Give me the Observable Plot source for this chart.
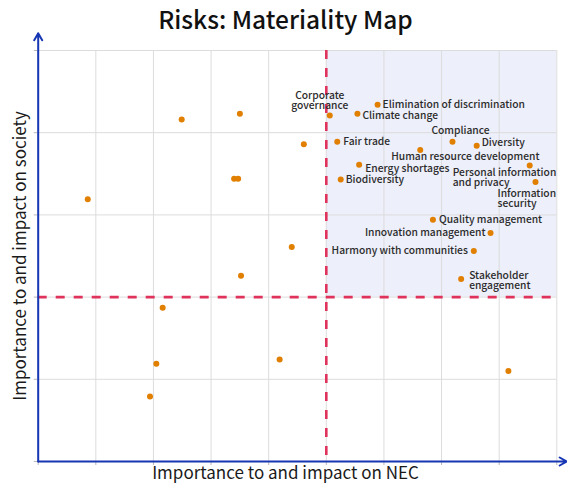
<!DOCTYPE html>
<html>
<head>
<meta charset="utf-8">
<script src="https://cdn.jsdelivr.net/npm/d3@7"></script>
<script src="https://cdn.jsdelivr.net/npm/@observablehq/plot@0.6"></script>
<style>
  html, body { margin: 0; padding: 0; background: #fff; }
  body { width: 567px; height: 489px; overflow: hidden; font-family: "Noto Sans CJK JP", "Noto Sans", sans-serif; }
  #title { height: 40px; line-height: 38px; text-align: center; font-size: 24.5px; font-weight: 500; color: #111; padding-left: 4px; box-sizing: border-box; }
</style>
</head>
<body>
<div id="title"></div>
<div id="chart"></div>
<script>
// ---- data ----
const titleText = "Risks: Materiality Map";
const xLabel = "Importance to and impact on NEC";
const yLabel = "Importance to and impact on society";

const names = [
  "Corporate\ngovernance", "Elimination of discrimination", "Climate change", "Fair trade",
  "Compliance", "Diversity", "Human resource development", "Energy shortages", "Biodiversity",
  "Personal information\nand privacy", "Information\nsecurity", "Quality management",
  "Innovation management", "Harmony with communities", "Stakeholder\nengagement",
  "", "", "", "", "", "", "", "", "", "", "", "", ""
];
const necValues = [
  5.06, 5.89, 5.54, 5.19,
  7.19, 7.61, 6.63, 5.57, 5.25,
  8.53, 8.63, 6.85,
  7.85, 7.56, 7.34,
  0.86, 2.49, 3.50, 4.61, 3.40, 3.47, 4.40, 3.52, 2.16, 2.05, 4.19, 1.94, 8.16
];
const societyValues = [
  4.21, 4.34, 4.23, 3.89,
  3.89, 3.84, 3.79, 3.61, 3.43,
  3.60, 3.40, 2.94,
  2.78, 2.56, 2.22,
  3.19, 4.16, 4.23, 3.86, 3.44, 3.44, 2.61, 2.26, 1.87, 1.19, 1.24, 0.79, 1.10
];
const xTicks = [0, 1, 2, 3, 4, 5, 6, 7, 8, 9];
const yTicks = [0, 1, 2, 3, 4, 5];
const xThreshold = 5;
const yThreshold = 2;
const xMax = 9, yMax = 5;
const xArrowEnd = 9.17, yArrowEnd = 5.21;

document.getElementById("title").textContent = titleText;

// label placement (layout, relative to each point)
const labelStyle = {
  "Corporate\ngovernance": {anchor: "middle", dx: -10, dy: -15},
  "Elimination of discrimination": {anchor: "start", dx: 5, dy: 0},
  "Climate change": {anchor: "start", dx: 5, dy: 2},
  "Fair trade": {anchor: "start", dx: 6, dy: 0},
  "Compliance": {anchor: "middle", dx: 8, dy: -11},
  "Diversity": {anchor: "start", dx: 5, dy: -3},
  "Human resource development": {anchor: "start", dx: -29, dy: 7},
  "Energy shortages": {anchor: "start", dx: 6, dy: 4},
  "Biodiversity": {anchor: "start", dx: 5, dy: 0},
  "Personal information\nand privacy": {anchor: "start", dx: -77, dy: 12},
  "Information\nsecurity": {anchor: "start", dx: -38, dy: 17},
  "Quality management": {anchor: "start", dx: 6, dy: 0},
  "Innovation management": {anchor: "end", dx: -5, dy: 0},
  "Harmony with communities": {anchor: "end", dx: -6, dy: 0},
  "Stakeholder\nengagement": {anchor: "start", dx: 8, dy: 2}
};

const points = names.map((n, i) => ({name: n, x: necValues[i], y: societyValues[i]}));
const labeled = points.filter(d => d.name !== "");

const FONT = "Noto Sans CJK JP, Noto Sans, sans-serif";
const axisBlue = "#1636b4";
const red = "#e0335c";

const labelMarks = labeled.map(d => {
  const s = labelStyle[d.name];
  return Plot.text([d], {
    x: "x", y: "y", text: "name",
    textAnchor: s.anchor, dx: s.dx, dy: s.dy,
    lineAnchor: "middle", lineHeight: 1.0,
    fill: "#2b2b2b", fontSize: 10.25, fontWeight: 500
  });
});

const chart = Plot.plot({
  width: 567,
  height: 449,
  marginLeft: 37.7,
  marginRight: 10.7,
  marginTop: 10,
  marginBottom: 28,
  style: {color: "#b8b8b8", background: "white", fontFamily: FONT, overflow: "visible"},
  x: {domain: [0, xMax], ticks: xTicks, tickSize: 4, tickFormat: () => "", label: null},
  y: {domain: [0, yMax], ticks: yTicks, tickSize: 4, tickFormat: () => "", label: null},
  marks: [
    Plot.rect([{x1: xThreshold, x2: xMax, y1: yThreshold, y2: yMax}], {x1: "x1", x2: "x2", y1: "y1", y2: "y2", fill: "#edeffa"}),
    Plot.ruleX(xTicks, {stroke: "#dcdcdc", strokeWidth: 1}),
    Plot.ruleY(yTicks, {stroke: "#dcdcdc", strokeWidth: 1}),
    Plot.ruleX([xThreshold], {stroke: red, strokeWidth: 2.6, strokeDasharray: "9,9"}),
    Plot.ruleY([yThreshold], {stroke: red, strokeWidth: 2.6, strokeDasharray: "9,9"}),
    Plot.arrow([{x1: 0, y1: 0, x2: 0, y2: yArrowEnd}], {x1: "x1", y1: "y1", x2: "x2", y2: "y2", stroke: axisBlue, strokeWidth: 2, headLength: 6, headAngle: 60}),
    Plot.arrow([{x1: 0, y1: 0, x2: xArrowEnd, y2: 0}], {x1: "x1", y1: "y1", x2: "x2", y2: "y2", stroke: axisBlue, strokeWidth: 2, headLength: 6, headAngle: 60}),
    Plot.dot(points, {x: "x", y: "y", r: 3, fill: "#e07f00", stroke: "none"}),
    ...labelMarks,
    Plot.text([xLabel], {text: d => d, frameAnchor: "bottom", textAnchor: "middle", dx: -12, dy: 17, fill: "#1a1a1a", fontSize: 17, fontFamily: FONT}),
    Plot.text([yLabel], {text: d => d, frameAnchor: "left", textAnchor: "middle", dx: -18, rotate: -90, fill: "#1a1a1a", fontSize: 17, fontFamily: FONT})
  ]
});
document.getElementById("chart").appendChild(chart);
</script>
</body>
</html>
